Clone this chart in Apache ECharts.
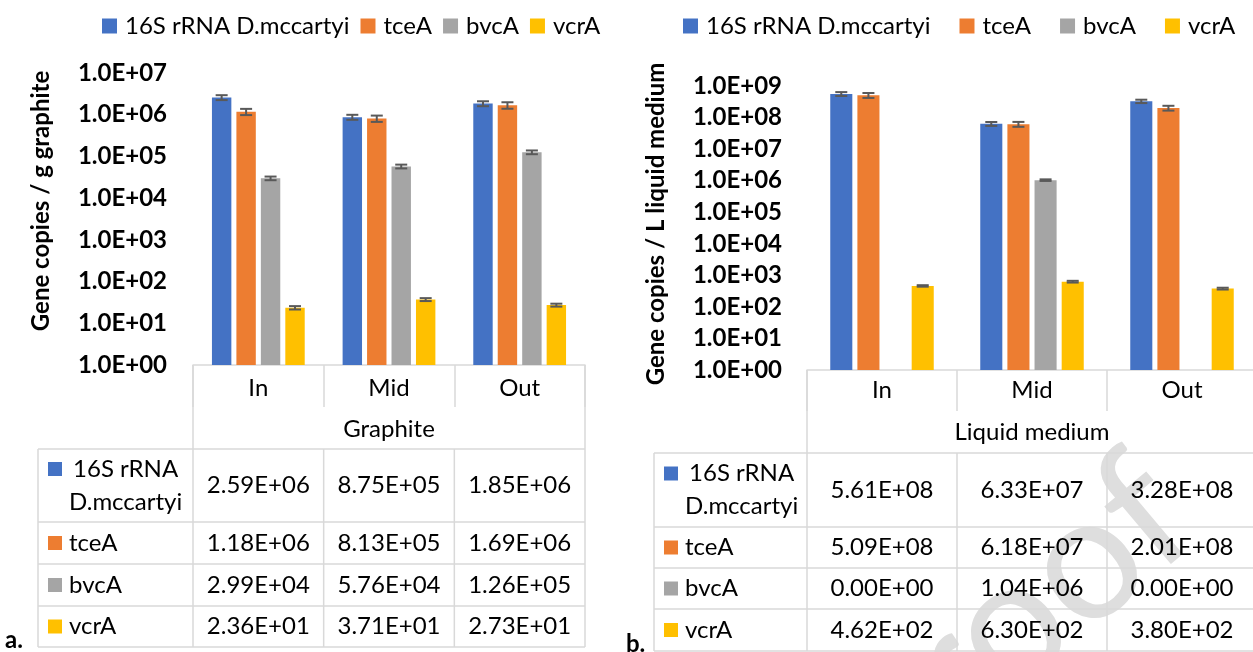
<!DOCTYPE html>
<html>
<head>
<meta charset="utf-8">
<title>Gene copies – graphite and liquid medium</title>
<script src="https://cdn.jsdelivr.net/npm/echarts@6/dist/echarts.min.js"></script>
<style>
  html, body { margin: 0; padding: 0; background: #ffffff; }
  #chart { width: 1253px; height: 652px; }
</style>
</head>
<body>
<div id="chart"></div>
<script>
// ---- data -------------------------------------------------------------
const categories = ['In', 'Mid', 'Out'];
const geneNames = ['16S rRNA D.mccartyi', 'tceA', 'bvcA', 'vcrA'];
const panelTitles = ['Graphite', 'Liquid medium'];
const yAxisNames = ['Gene copies / g graphite', 'Gene copies / L liquid medium'];
const yAxisMax = [1e7, 1e9];

// graphite (gene copies / g graphite)
const graphite16S   = [2.59e6, 8.75e5, 1.85e6];
const graphiteTceA  = [1.18e6, 8.13e5, 1.69e6];
const graphiteBvcA  = [2.99e4, 5.76e4, 1.26e5];
const graphiteVcrA  = [2.36e1, 3.71e1, 2.73e1];
const graphite16SErr  = [3.5e5, 1.2e5, 2.5e5];
const graphiteTceAErr = [2.0e5, 1.4e5, 3.0e5];
const graphiteBvcAErr = [3.0e3, 6.0e3, 1.3e4];
const graphiteVcrAErr = [2.2, 3.0, 2.2];

// liquid medium (gene copies / L)
const liquid16S   = [5.61e8, 6.33e7, 3.28e8];
const liquidTceA  = [5.09e8, 6.18e7, 2.01e8];
const liquidBvcA  = [0, 1.04e6, 0];
const liquidVcrA  = [4.62e2, 6.30e2, 3.80e2];
const liquid16SErr  = [8.0e7, 9.0e6, 4.0e7];
const liquidTceAErr = [9.0e7, 1.1e7, 3.5e7];
const liquidBvcAErr = [0, 6.0e4, 0];
const liquidVcrAErr = [25, 40, 25];

const panelValues = [
  [graphite16S, graphiteTceA, graphiteBvcA, graphiteVcrA],
  [liquid16S, liquidTceA, liquidBvcA, liquidVcrA]
];
const panelErrors = [
  [graphite16SErr, graphiteTceAErr, graphiteBvcAErr, graphiteVcrAErr],
  [liquid16SErr, liquidTceAErr, liquidBvcAErr, liquidVcrAErr]
];

// ---- styling & layout ---------------------------------------------------
const FONT = 'Lato, Carlito, Calibri, sans-serif';
const FS = 24;
const COLORS = ['#4472C4', '#ED7D31', '#A5A5A5', '#FFC000'];
const LINE = '#d9d9d9';

const layouts = [
  { grid: { left: 193, top: 73, width: 392, height: 292 }, catGap: 0.29, barGap: 0.26,
    yLabelMargin: 26, xLabelMargin: 23, tickLen: 42, groupY: 429, tableTop: 449,
    rowBottoms: [522, 564, 606, 647], labelLeft: 38, legendLeft: 102, legendGap: 11,
    nameX: 41, nameY: 201, tag: { text: 'a.', x: 5, y: 640 } },
  { grid: { left: 807, top: 86, width: 450, height: 284 }, catGap: 0.31, barGap: 0.23,
    yLabelMargin: 25, xLabelMargin: 20, tickLen: 41, groupY: 432, tableTop: 453,
    rowBottoms: [527, 568, 609, 651], labelLeft: 654, legendLeft: 683, legendGap: 29,
    nameX: 656, nameY: 224, tag: { text: 'b.', x: 626, y: 644 } }
];

// 1.0E+07 style formatting
function sci(v, digits) {
  if (!v) return (0).toFixed(digits) + 'E+00';
  const parts = Number(v).toExponential(digits).split('e');
  const n = parseInt(parts[1], 10);
  return parts[0] + 'E' + (n < 0 ? '-' : '+') + String(Math.abs(n)).padStart(2, '0');
}
const pct = f => Math.round(f * 100) + '%';

// error bars placed on top of the matching bar slot
function errorRenderer(catGap, barGap, n) {
  return function (params, api) {
    const cat = api.value(0), val = api.value(1), err = api.value(2), s = api.value(3);
    if (!(val > 0) || !(err > 0)) return null;
    const band = api.size([1, 1])[0];
    const avail = band * (1 - catGap);
    const w = avail / (n + (n - 1) * barGap);
    const x = api.coord([cat, val])[0] - avail / 2 + w / 2 + s * w * (1 + barGap);
    const yHi = api.coord([cat, val + err])[1];
    const yLo = api.coord([cat, Math.max(val - err, 1)])[1];
    const cap = 6;
    const style = { stroke: '#595959', lineWidth: 2 };
    return {
      type: 'group',
      children: [
        { type: 'line', shape: { x1: x, y1: yHi, x2: x, y2: yLo }, style },
        { type: 'line', shape: { x1: x - cap, y1: yHi, x2: x + cap, y2: yHi }, style },
        { type: 'line', shape: { x1: x - cap, y1: yLo, x2: x + cap, y2: yLo }, style }
      ]
    };
  };
}

const chart = echarts.init(document.getElementById('chart'), null, { renderer: 'canvas' });

const grids = [], xAxes = [], yAxes = [], legends = [], series = [];
layouts.forEach((L, pi) => {
  grids.push(Object.assign({ containLabel: false, outerBoundsMode: 'none' }, L.grid));
  xAxes.push({
    type: 'category', gridIndex: pi, data: categories,
    axisLine: { show: true, lineStyle: { color: LINE, width: 1.5 } },
    axisTick: { show: true, length: L.tickLen, lineStyle: { color: LINE, width: 1.5 } },
    axisLabel: { margin: L.xLabelMargin, verticalAlign: 'middle', fontFamily: FONT, fontSize: FS, color: '#000' },
    splitLine: { show: false }
  });
  yAxes.push({
    type: 'log', gridIndex: pi, logBase: 10, min: 1, max: yAxisMax[pi], interval: 1,
    axisLine: { show: false }, axisTick: { show: false }, splitLine: { show: false },
    axisLabel: { margin: L.yLabelMargin, fontFamily: FONT, fontSize: FS, fontWeight: 'bold', color: '#000',
                 formatter: v => sci(v, 1) }
  });
  legends.push({
    left: L.legendLeft, top: 14, padding: 0, orient: 'horizontal', icon: 'rect',
    itemWidth: 15, itemHeight: 15, itemGap: L.legendGap, selectedMode: false,
    textStyle: { fontFamily: FONT, fontSize: FS, color: '#000', padding: [0, 0, 0, 3] },
    data: geneNames
  });
  const errData = [];
  panelValues[pi].forEach((vals, gi) => {
    series.push({
      type: 'bar', name: geneNames[gi], xAxisIndex: pi, yAxisIndex: pi,
      data: vals.map(v => (v > 0 ? v : '-')),
      itemStyle: { color: COLORS[gi] },
      barCategoryGap: pct(L.catGap), barGap: pct(L.barGap),
      emphasis: { disabled: true }, silent: true
    });
    vals.forEach((v, ci) => {
      if (v > 0) errData.push([ci, v, panelErrors[pi][gi][ci], gi]);
    });
  });
  series.push({
    type: 'custom', name: 'error-' + pi, xAxisIndex: pi, yAxisIndex: pi, z: 5, silent: true,
    renderItem: errorRenderer(L.catGap, L.barGap, geneNames.length),
    encode: { x: 0, y: 1 }, data: errData
  });
});

chart.setOption({
  animation: false,
  backgroundColor: '#ffffff',
  grid: grids, xAxis: xAxes, yAxis: yAxes, legend: legends, series
});

// ---- data tables under each plot ------------------------------------------
const measureCtx = document.createElement('canvas').getContext('2d');
function wrapLines(text, font, maxW) {
  measureCtx.font = font;
  const words = text.split(' ');
  const lines = [];
  let cur = '';
  words.forEach(w => {
    const t = cur ? cur + ' ' + w : w;
    if (!cur || measureCtx.measureText(t).width <= maxW) cur = t;
    else { lines.push(cur); cur = w; }
  });
  lines.push(cur);
  return { lines, width: Math.max.apply(null, lines.map(l => measureCtx.measureText(l).width)) };
}

const graphics = [];
const lineStyle = { stroke: LINE, lineWidth: 1.5 };
const hLine = (x1, x2, y) => ({ type: 'line', z: 2, silent: true, shape: { x1, y1: y, x2, y2: y }, style: lineStyle });
const vLine = (x, y1, y2) => ({ type: 'line', z: 2, silent: true, shape: { x1: x, y1, x2: x, y2 }, style: lineStyle });
const label = (text, x, y, extra) => ({
  type: 'text', z: 3, silent: true, x, y,
  style: Object.assign({ text, fill: '#000', font: FS + 'px ' + FONT, align: 'center', verticalAlign: 'middle' }, extra || {})
});

// faint "Proof" overprint across the right-hand table
graphics.push({
  type: 'text', z: 1, silent: true, x: 1224, y: 560, rotation: 40 * Math.PI / 180,
  style: { text: 'Proof', font: '175px ' + FONT, fill: '#dedede', align: 'right', verticalAlign: 'bottom' }
});

layouts.forEach((L, pi) => {
  const centers = categories.map(c => chart.convertToPixel({ xAxisIndex: pi }, c));
  const band = centers[1] - centers[0];
  const colLeft = centers[0] - band / 2;
  const colRight = centers[centers.length - 1] + band / 2;
  const axisY = L.grid.top + L.grid.height;
  const bottom = L.rowBottoms[L.rowBottoms.length - 1];

  // frame around the category block and the data rows
  graphics.push(vLine(colLeft, axisY, bottom));
  graphics.push(vLine(colRight, axisY, bottom));
  graphics.push(vLine(L.labelLeft, L.tableTop, bottom));
  for (let i = 1; i < categories.length; i++) {
    graphics.push(vLine(colLeft + i * band, L.tableTop, bottom));
  }
  graphics.push(hLine(L.labelLeft, colRight, L.tableTop));
  L.rowBottoms.forEach(y => graphics.push(hLine(L.labelLeft, colRight, y)));

  // group title under the categories
  graphics.push(label(panelTitles[pi], (colLeft + colRight) / 2, L.groupY));

  // rows
  const font = FS + 'px ' + FONT;
  const textLeft = L.labelLeft + 31;
  geneNames.forEach((name, gi) => {
    const top = gi === 0 ? L.tableTop : L.rowBottoms[gi - 1];
    const bot = L.rowBottoms[gi];
    const cy = (top + bot) / 2;
    const wrapped = wrapLines(name, font, colLeft - textLeft - 4);
    const lh = 33;
    const firstY = cy - (wrapped.lines.length - 1) * lh / 2;
    graphics.push({
      type: 'rect', z: 3, silent: true,
      shape: { x: L.labelLeft + 10, y: firstY - 7, width: 14, height: 14 },
      style: { fill: COLORS[gi] }
    });
    if (wrapped.lines.length === 1) {
      graphics.push(label(name, textLeft, cy, { align: 'left' }));
    } else {
      graphics.push(label(wrapped.lines.join('\n'), textLeft + wrapped.width / 2, cy, { lineHeight: lh }));
    }
    panelValues[pi][gi].forEach((v, ci) => {
      graphics.push(label(sci(v, 2), centers[ci], cy));
    });
  });

  // y axis title and panel tag
  graphics.push({
    type: 'text', z: 3, silent: true, x: L.nameX, y: L.nameY, rotation: Math.PI / 2,
    style: { text: yAxisNames[pi], fill: '#000', font: 'bold ' + FS + 'px ' + FONT, align: 'center', verticalAlign: 'middle' }
  });
  graphics.push(label(L.tag.text, L.tag.x, L.tag.y, { align: 'left', font: 'bold ' + FS + 'px ' + FONT }));
});

chart.setOption({ graphic: { elements: graphics } });
</script>
</body>
</html>
